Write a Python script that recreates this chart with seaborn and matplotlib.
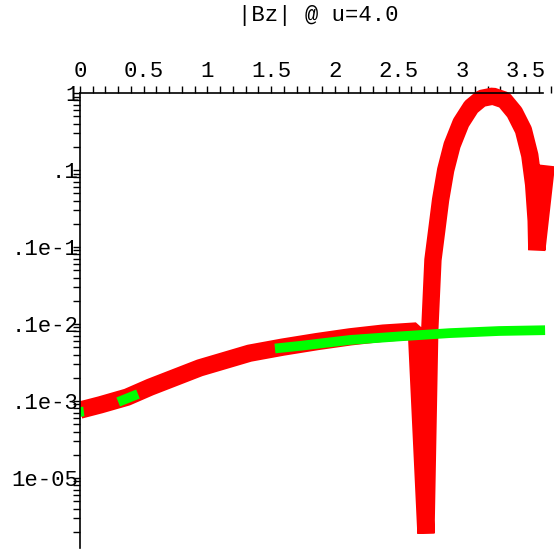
import numpy as np
import pandas as pd
import matplotlib
matplotlib.use("Agg")
import matplotlib.pyplot as plt
from matplotlib.ticker import MultipleLocator, LogLocator, NullFormatter
import seaborn as sns

# red curve |Bz|
red_x = [0.00, 0.16, 0.37, 0.55, 0.94, 1.33, 1.59, 1.86, 2.12, 2.38, 2.64,
         2.715, 2.745, 2.77, 2.80, 2.83, 2.87, 2.92, 2.99, 3.07, 3.15, 3.24,
         3.33, 3.41, 3.48, 3.53, 3.56, 3.58, 3.585, 3.66]
red_y = [7.6e-5, 8.9e-5, 1.12e-4, 1.51e-4, 2.69e-4, 4.17e-4, 5.0e-4, 5.9e-4,
         6.8e-4, 7.6e-4, 8.1e-4, 1.9e-6, 8.3e-4, 6.8e-3, 1.66e-2, 4.1e-2,
         0.10, 0.21, 0.41, 0.66, 0.85, 0.91, 0.81, 0.56, 0.33, 0.155, 0.065,
         0.022, 0.0091, 0.115]

# green curve, drawn in pieces
green_x = [0.00, 0.03, 0.30, 0.455, 1.53, 1.73, 2.12, 2.51, 2.90, 3.29, 3.65]
green_y = [7.2e-5, 7.3e-5, 9.7e-5, 1.23e-4, 4.8e-4, 5.2e-4, 6.2e-4, 6.9e-4,
           7.6e-4, 8.1e-4, 8.3e-4]
green_seg = [0, 0, 1, 1, 2, 2, 2, 2, 2, 2, 2]

x_ticks = [0, 0.5, 1, 1.5, 2, 2.5, 3, 3.5]
x_labels = ["0", "0.5", "1", "1.5", "2", "2.5", "3", "3.5"]
y_ticks = [1, 0.1, 0.01, 1e-3, 1e-4, 1e-5]
y_labels = ["1", ".1", ".1e-1", ".1e-2", ".1e-3", "1e-05"]

sns.set_style("white")
plt.rcParams['font.family'] = ['Liberation Mono', 'DejaVu Sans Mono']

W = H = 554
fig = plt.figure(figsize=(W / 100, H / 100), dpi=100)
# x from 0 to 3.72 spans pixels 80..554, the drawn axis stops at 3.63
ax = fig.add_axes([80 / W, 6 / H, 474 / W, 463 / H])

red = pd.DataFrame({"x": red_x, "y": red_y})
green = pd.DataFrame({"x": green_x, "y": green_y, "seg": green_seg})

sns.lineplot(data=red, x="x", y="y", sort=False, estimator=None, ax=ax,
             color="#ff0000", linewidth=12.5, solid_capstyle="butt",
             solid_joinstyle="bevel")
sns.lineplot(data=green, x="x", y="y", units="seg", sort=False, estimator=None,
             ax=ax, color="#00ff00", linewidth=7, solid_capstyle="butt",
             solid_joinstyle="bevel")

ax.set_yscale("log")
ax.set_xlim(0, 3.72)
ax.set_ylim(1.23e-6, 1.27)

# axes cross at (0, 1) like the original
ax.spines["top"].set_position(("data", 1.0))
ax.spines["top"].set_bounds(0, 3.63)
ax.spines["left"].set_bounds(1.23e-6, 1.0)
ax.spines["right"].set_visible(False)
ax.spines["bottom"].set_visible(False)
for s in ["top", "left"]:
    ax.spines[s].set_color("black")
    ax.spines[s].set_linewidth(1.2)

ax.xaxis.set_ticks_position("top")
ax.set_xticks(x_ticks)
ax.set_xticklabels(x_labels)
ax.xaxis.set_minor_locator(MultipleLocator(0.1))
ax.tick_params(axis="x", which="both", direction="out", length=5, width=1,
               top=True, bottom=False, labeltop=True, labelbottom=False,
               pad=3, labelsize=16, colors="black")

ax.set_yticks(y_ticks)
ax.set_yticklabels(y_labels)
ax.yaxis.set_minor_locator(LogLocator(base=10, subs=np.arange(2, 10)))
ax.yaxis.set_minor_formatter(NullFormatter())
ax.tick_params(axis="y", which="both", direction="out", length=5, width=1,
               left=True, right=False, pad=-4, labelsize=16, colors="black")

ax.set_xlabel("")
ax.set_ylabel("")
ax.grid(False)
ax.patch.set_alpha(0)

fig.text(318 / W, 1 - 15 / H, "|Bz| @ u=4.0", ha="center", va="center",
         fontsize=16, color="black")

fig.savefig("out.png", dpi=100)
